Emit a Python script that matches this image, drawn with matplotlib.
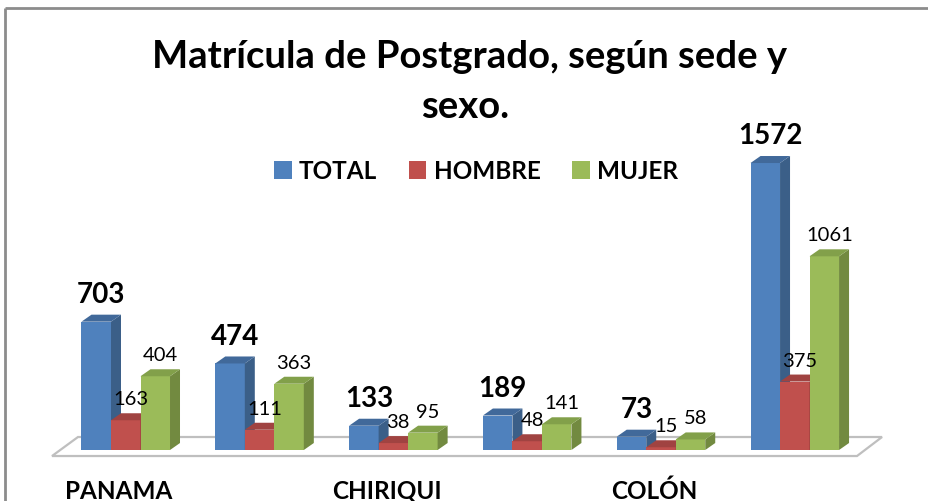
import matplotlib
matplotlib.use("Agg")
import matplotlib.pyplot as plt
from matplotlib.patches import Polygon, Patch
from matplotlib.lines import Line2D

plt.rcParams['font.family'] = ['Lato', 'DejaVu Sans']

# data
categories = ["PANAMA", "", "CHIRIQUI", "", "COLÓN", ""]
series = ["TOTAL", "HOMBRE", "MUJER"]
total = [703, 474, 133, 189, 73, 1572]
hombre = [163, 111, 38, 48, 15, 375]
mujer = [404, 363, 95, 141, 58, 1061]

# face colours: front, side, top
colors = {
    "TOTAL": ("#4F81BD", "#3B5F88", "#41699A"),
    "HOMBRE": ("#C0504D", "#8E3B39", "#A04341"),
    "MUJER": ("#9BBB59", "#728A40", "#82A04A"),
}

w = 0.2205       # bar width (one group step = 1)
dx = 0.0747      # 3d depth, x
dy = 38.3        # 3d depth, y (data units)

fig = plt.figure(figsize=(9.29, 5.02), dpi=100)
ax = fig.add_axes([0, 0, 1, 1])
ax.set_xlim(-0.9398, 6.003)
ax.set_ylim(-279.3, 2470.3)
ax.axis('off')

# floor
floor = Polygon([(-0.551, -32.9), (-0.357, 71.2), (5.652, 71.2), (5.465, -32.9)],
                closed=True, facecolor='white', edgecolor='#BFBFBF', lw=1.6, zorder=1)
ax.add_patch(floor)

z = 2
for i in range(len(categories)):
    for j, (name, vals) in enumerate(zip(series, [total, hombre, mujer])):
        v = vals[i]
        xl = i + (j - 1.5) * w
        front, side, top = colors[name]
        ax.bar(xl, v, width=w, align='edge', color=front, edgecolor='none', zorder=z)
        ax.add_patch(Polygon([(xl + w, 0), (xl + w + dx, dy), (xl + w + dx, v + dy), (xl + w, v)],
                             closed=True, facecolor=side, edgecolor='none', zorder=z))
        ax.add_patch(Polygon([(xl, v), (xl + dx, v + dy), (xl + w + dx, v + dy), (xl + w, v)],
                             closed=True, facecolor=top, edgecolor='none', zorder=z))
        z += 1
        if name == "TOTAL":
            ax.text(xl + w / 2 + dx / 2, v + dy + 71, str(v), ha='center', va='baseline',
                    fontsize=20, fontweight='bold', zorder=100)
        else:
            ax.text(xl + w / 2 + dx / 2, v + dy + 49, str(v), ha='center', va='baseline',
                    fontsize=14.5, zorder=100)

# category labels (cut by the bottom edge, as in the original)
for i, c in enumerate(categories):
    if c:
        ax.text(i - 0.05, -262.0, c, ha='center', va='baseline', fontsize=17.5, fontweight='bold')

# title
fig.text(470 / 929, 1 - 68 / 502, "Matrícula de Postgrado, según sede y", ha='center',
         va='baseline', fontsize=27.5, fontweight='bold')
fig.text(465 / 929, 1 - 118 / 502, "sexo.", ha='center', va='baseline', fontsize=27.5,
         fontweight='bold')

# legend
handles = [Patch(facecolor=colors[s][0], edgecolor='none') for s in series]
fig.legend(handles, series, loc='center', bbox_to_anchor=(476 / 929, 1 - 172 / 502), ncol=3,
           frameon=False, handlelength=0.72, handleheight=0.72, handletextpad=0.3,
           columnspacing=1.3, prop={'size': 17.5, 'weight': 'bold'})

# chart frame
fig.add_artist(Line2D([5 / 929, 5 / 929], [0, 1 - 9 / 502], color='#8C8C8C', lw=2,
                      solid_capstyle='butt'))
fig.add_artist(Line2D([5 / 929, 1], [1 - 9 / 502, 1 - 9 / 502], color='#8C8C8C', lw=2,
                      solid_capstyle='butt'))

fig.savefig("out.png", dpi=100)
